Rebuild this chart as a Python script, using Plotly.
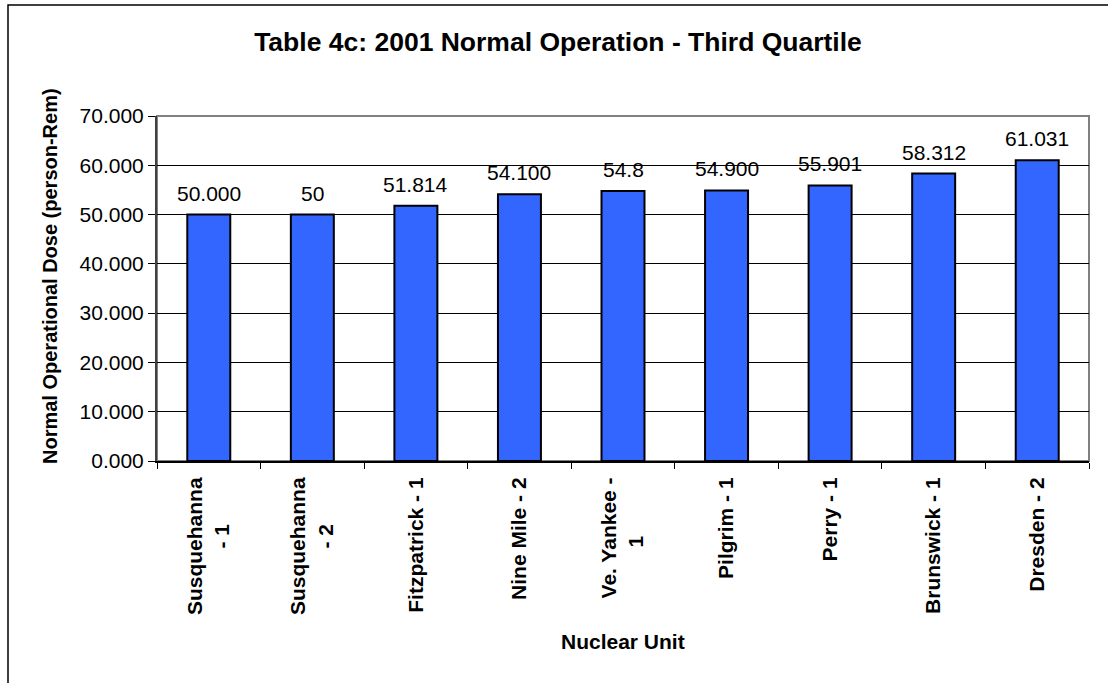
import plotly.graph_objects as go

NB = '&nbsp;'
units = ["Susquehanna<br>- 1" + NB * 8, "Susquehanna<br>- 2" + NB * 8, "Fitzpatrick - 1", "Nine Mile - 2",
         "Ve. Yankee -<br>1" + NB * 10, "Pilgrim - 1", "Perry - 1", "Brunswick - 1", "Dresden - 2"]
dose = [50.0, 50.0, 51.814, 54.1, 54.8, 54.9, 55.901, 58.312, 61.031]
dose_labels = ["50.000", "50", "51.814", "54.100", "54.8", "54.900", "55.901", "58.312", "61.031"]
y_ticks = [0, 10, 20, 30, 40, 50, 60, 70]

FONT = 'Liberation Sans, Arial, sans-serif'

fig = go.Figure(go.Bar(
    x=units,
    y=dose,
    marker=dict(color='#3366FF', line=dict(color='#000000', width=2)),
    hoverinfo='skip',
))

# value labels sitting a bit above each bar
for u, v, t in zip(units, dose, dose_labels):
    fig.add_annotation(x=u, y=v, text=t, showarrow=False, yanchor='bottom', yshift=8,
                       font=dict(size=21, color='#000000', family=FONT))

fig.update_layout(
    width=1108, height=683,
    margin=dict(l=157, r=19, t=116, b=222),
    paper_bgcolor='#ffffff',
    plot_bgcolor='#ffffff',
    font=dict(family=FONT, size=21, color='#000000'),
    showlegend=False,
    bargap=0.585,
    title=dict(text='<b>Table 4c: 2001 Normal Operation - Third Quartile</b>',
               x=558 / 1108, xanchor='center', y=1 - 42 / 683, yanchor='middle',
               font=dict(size=26.5, family=FONT, color='#000000')),
    xaxis=dict(
        type='category',
        tickangle=-90,
        tickfont=dict(size=21, family=FONT, color='#000000', weight='bold'),
        ticks='outside', tickson='boundaries', ticklen=6, tickcolor='#000000', tickwidth=1,
        showline=True, linecolor='#000000', linewidth=2,
        showgrid=False,
        ticklabelstandoff=6,
    ),
    yaxis=dict(
        range=[0, 70],
        tickvals=y_ticks,
        tickformat='.3f',
        tickfont=dict(size=21, family=FONT, color='#000000'),
        ticks='outside', ticklen=7, tickcolor='#000000', tickwidth=1,
        showline=True, linecolor='#404040', linewidth=2,
        showgrid=True, gridcolor='#000000', gridwidth=1,
        zeroline=False,
    ),
    annotations=list(fig.layout.annotations) + [
        dict(text='<b>Normal Operational Dose (person-Rem)</b>', xref='paper', yref='paper',
             x=(50 - 157) / 932, y=(461 - 276) / 345, textangle=-90, showarrow=False,
             xanchor='center', yanchor='middle', font=dict(size=20, family=FONT)),
        dict(text='<b>Nuclear Unit</b>', xref='paper', yref='paper',
             x=0.5, y=(461 - 641) / 345, showarrow=False,
             xanchor='center', yanchor='middle', font=dict(size=21, family=FONT)),
    ],
    shapes=[
        # grey frame on top / right of plot area
        dict(type='rect', xref='paper', yref='paper', x0=0, y0=0, x1=1, y1=1,
             line=dict(color='#808080', width=2), layer='below'),
        # outer chart border (runs off the right and bottom edge)
        dict(type='rect', xref='paper', yref='paper',
             x0=(8 - 157) / 932, y0=-1.0, x1=1.2, y1=(461 - 5) / 345,
             line=dict(color='#000000', width=1.5)),
    ],
)

fig.write_html("out.html", config={'displayModeBar': False},
               post_script="document.body.style.margin='0';")
